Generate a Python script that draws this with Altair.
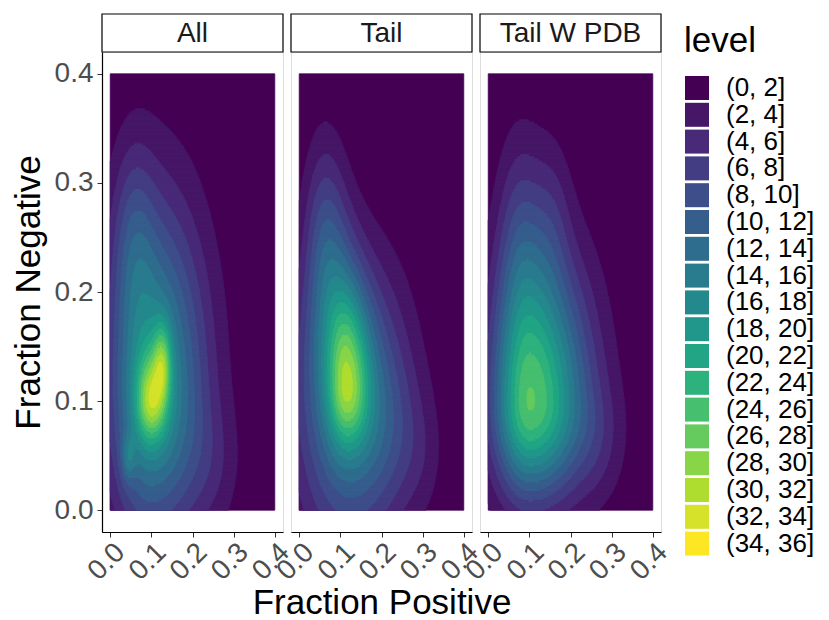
import numpy as np
import pandas as pd
import altair as alt

# ---------------- data ----------------
panels = ["All", "Tail", "Tail W PDB"]
level_breaks = list(range(0, 38, 2))
level_labels = [f"({a}, {b}]" for a, b in zip(level_breaks[:-1], level_breaks[1:])]
tick_values = [0.0, 0.1, 0.2, 0.3, 0.4]

# density surface of each panel, described as a few (split) bumps:
# centre x, centre y, spread left / right, spread down / up, peak height
all_cx = [0.100, 0.100, 0.127, 0.055, 0.044, 0.250]
all_cy = [0.110, 0.100, 0.135, 0.250, 0.048, 0.040]
all_sxl = [0.070, 0.025, 0.015, 0.035, 0.012, 0.050]
all_sxr = [0.090, 0.025, 0.015, 0.035, 0.012, 0.050]
all_syd = [0.090, 0.025, 0.025, 0.060, 0.015, 0.040]
all_syu = [0.115, 0.030, 0.025, 0.060, 0.015, 0.040]
all_h = [19.0, 13.0, 10.0, 4.5, 5.0, 2.0]

tail_cx = [0.119, 0.117, 0.060, 0.090, 0.220, 0.300]
tail_cy = [0.111, 0.111, 0.250, 0.200, 0.070, 0.050]
tail_sxl = [0.090, 0.032, 0.035, 0.040, 0.060, 0.040]
tail_sxr = [0.090, 0.036, 0.035, 0.040, 0.060, 0.040]
tail_syd = [0.100, 0.036, 0.065, 0.070, 0.050, 0.040]
tail_syu = [0.080, 0.060, 0.065, 0.070, 0.050, 0.040]
tail_h = [15.0, 14.0, 6.0, 4.0, 3.0, 1.5]

pdb_cx = [0.102, 0.080, 0.160, 0.270]
pdb_cy = [0.098, 0.250, 0.270, 0.060]
pdb_sxl = [0.063, 0.040, 0.030, 0.040]
pdb_sxr = [0.095, 0.050, 0.030, 0.050]
pdb_syd = [0.058, 0.060, 0.050, 0.040]
pdb_syu = [0.092, 0.070, 0.050, 0.040]
pdb_h = [26.0, 5.0, 2.0, 2.0]

bumps = {
    "All": (all_cx, all_cy, all_sxl, all_sxr, all_syd, all_syu, all_h),
    "Tail": (tail_cx, tail_cy, tail_sxl, tail_sxr, tail_syd, tail_syu, tail_h),
    "Tail W PDB": (pdb_cx, pdb_cy, pdb_sxl, pdb_sxr, pdb_syd, pdb_syu, pdb_h),
}

# viridis reference colours (position, hex) used to build the discrete palette
vir_pos = [0.0, 0.1111, 0.125, 0.1429, 0.1667, 0.2, 0.2222, 0.25, 0.2857, 0.3333,
           0.375, 0.4, 0.4286, 0.4444, 0.5, 0.5556, 0.5714, 0.6, 0.625, 0.6667,
           0.7143, 0.75, 0.7778, 0.8, 0.8333, 0.8571, 0.875, 0.8889, 1.0]
vir_hex = ["#440154", "#482878", "#472D7B", "#46337E", "#443A83", "#414487", "#3E4A89",
           "#3B528B", "#365C8D", "#31688E", "#2C728E", "#2A788E", "#277F8E", "#26828E",
           "#21908C", "#1F9E89", "#1FA187", "#22A884", "#27AD81", "#35B779", "#4AC16D",
           "#5DC863", "#6DCD59", "#7AD151", "#8FD744", "#9FDA3A", "#AADC32", "#B4DE2C",
           "#FDE725"]


def viridis(n):
    rgb = np.array([[int(h[i:i + 2], 16) for i in (1, 3, 5)] for h in vir_hex], float)
    out = []
    for t in np.linspace(0, 1, n):
        c = [np.interp(t, vir_pos, rgb[:, k]) for k in range(3)]
        out.append("#%02x%02x%02x" % tuple(int(round(v)) for v in c))
    return out


level_colors = viridis(len(level_labels))

# ---------------- evaluate density, band it, build nested filled regions ----------------
x_edges = np.linspace(0.0, 0.4, 401)
y_edges = np.linspace(0.0, 0.4, 201)
xc = (x_edges[:-1] + x_edges[1:]) / 2
yc = (y_edges[:-1] + y_edges[1:]) / 2
X, Y = np.meshgrid(xc, yc)

rows = []
for name in panels:
    cx, cy, sxl, sxr, syd, syu, h = bumps[name]
    d = np.zeros_like(X)
    for a, b, s1, s2, t1, t2, k in zip(cx, cy, sxl, sxr, syd, syu, h):
        sx = np.where(X < a, s1, s2)
        sy = np.where(Y < b, t1, t2)
        d += k * np.exp(-0.5 * ((X - a) / sx) ** 2 - 0.5 * ((Y - b) / sy) ** 2)
    lev = np.clip(np.ceil(d / 2.0), 1, len(level_labels)).astype(int) - 1
    # lowest band: one block over the whole grid
    rows.append((name, x_edges[0], x_edges[-1], y_edges[0], y_edges[-1], level_labels[0]))
    for k in range(1, len(level_labels)):
        mask = lev >= k
        for j in range(len(yc)):
            m = mask[j]
            if not m.any():
                continue
            padded = np.concatenate([[False], m, [False]])
            diff = np.diff(padded.astype(int))
            starts = np.where(diff == 1)[0]
            ends = np.where(diff == -1)[0]
            for s, e in zip(starts, ends):
                rows.append((name, x_edges[s], x_edges[e], y_edges[j], y_edges[j + 1],
                             level_labels[k]))
df = pd.DataFrame(rows, columns=["panel", "x", "x2", "y", "y2", "level"])

# ---------------- chart ----------------
FONT = "Liberation Sans"
W, H = 181, 480
dom = [-0.02, 0.42]

color_scale = alt.Scale(domain=level_labels, range=level_colors)
legend = alt.Legend(
    title="level", orient="none", legendX=582, legendY=-28,
    symbolType="square", symbolSize=576, symbolStrokeWidth=0, symbolOpacity=1,
    labelFontSize=26, titleFontSize=35, titleFontWeight="normal",
    labelFont=FONT, titleFont=FONT, labelColor="black", titleColor="black",
    rowPadding=0.8, labelOffset=16, titlePadding=16, padding=0,
)


def panel(name, first, middle):
    sub = df[df["panel"] == name]
    xaxis = alt.Axis(
        values=tick_values, format=".1f", grid=False, labelAngle=315,
        labelAlign="right", labelBaseline="top", labelFontSize=28, labelColor="#4D4D4D",
        labelFont=FONT, tickSize=5, tickColor="#333333", labelPadding=1,
        domainColor="black", domainWidth=1.2, titleFontSize=35, titleFont=FONT,
        titleFontWeight="normal", titleColor="black", titlePadding=0,
        labelOverlap=False, labelFlush=False,
    )
    xenc = alt.X("x:Q", scale=alt.Scale(domain=dom, nice=False, zero=False),
                 axis=xaxis, title="Fraction Positive" if middle else None)
    if first:
        yaxis = alt.Axis(
            values=tick_values, format=".1f", grid=False, labelFontSize=28,
            labelColor="#4D4D4D", labelFont=FONT, tickSize=5, tickColor="#333333",
            labelPadding=4, domainColor="black", domainWidth=1.2, titleFontSize=35,
            titleFont=FONT, titleFontWeight="normal", titleColor="black", titlePadding=8,
        )
        yenc = alt.Y("y:Q", scale=alt.Scale(domain=dom, nice=False, zero=False),
                     axis=yaxis, title="Fraction Negative")
    else:
        yenc = alt.Y("y:Q", scale=alt.Scale(domain=dom, nice=False, zero=False), axis=None)

    dens = alt.Chart(sub).mark_rect(strokeWidth=0.8).encode(
        x=xenc, x2="x2:Q", y=yenc, y2="y2:Q",
        color=alt.Color("level:O", scale=color_scale, legend=legend),
        stroke=alt.Stroke("level:O", scale=color_scale, legend=None),
    )
    strip_df = pd.DataFrame({"label": [name]})
    strip = alt.Chart(strip_df).mark_rect(fill="white", stroke="black", strokeWidth=1.2).encode(
        x=alt.value(0), x2=alt.value(W), y=alt.value(-38), y2=alt.value(0)
    )
    strip_text = alt.Chart(strip_df).mark_text(
        font=FONT, fontSize=28, color="#1A1A1A", baseline="middle", align="center"
    ).encode(x=alt.value(W / 2), y=alt.value(-18), text="label:N")
    return alt.layer(dens, strip, strip_text).properties(width=W, height=H)


chart = alt.hconcat(
    panel("All", True, False),
    panel("Tail", False, True),
    panel("Tail W PDB", False, False),
    spacing=8, bounds="flush",
).resolve_scale(color="shared", stroke="shared").properties(
    padding={"left": 10, "top": 12, "right": 0, "bottom": 0}
).configure_view(stroke=None).configure(background="white")

chart.save("out.html", embed_options={"renderer": "svg", "actions": False})
